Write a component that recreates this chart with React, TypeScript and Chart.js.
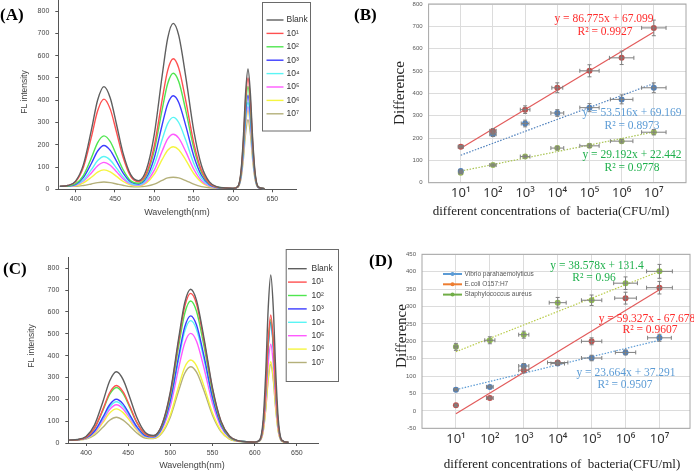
import React, { useEffect, useRef } from 'react';
import { Chart, registerables } from 'chart.js';

Chart.register(...registerables);

const W = 694;
const H = 473;

// ---------------- Spectra (panels A and C) ----------------
const WAVELENGTHS = [380, 390, 400, 410, 420, 428, 436, 444, 452, 460, 470, 480, 490, 500, 510, 517, 524, 531, 540, 550, 560, 570, 580, 590, 600, 606, 610, 613, 616, 619, 622, 625, 628, 632, 640];
const SPEC_LABELS = ['Blank', '10¹', '10²', '10³', '10⁴', '10⁵', '10⁶', '10⁷'];
const SPEC_COLORS = ['#5f5f5f', '#ff5050', '#50e650', '#3c3cff', '#5af5f5', '#ff5aff', '#f5f540', '#b4b07a'];
const SPEC_X_TICKS = [400, 450, 500, 550, 600, 650];
const SPEC_Y_TICKS = [0, 100, 200, 300, 400, 500, 600, 700, 800];

const A_BLANK = [13, 17, 37, 112, 266, 401, 461, 410, 291, 166, 66, 39, 89, 248, 511, 679, 745, 691, 504, 266, 106, 33, 11, 6, 4, 12, 77, 225, 434, 540, 433, 224, 76, 11, 3];
const A_E1 = [13, 17, 34, 100, 234, 353, 405, 360, 256, 147, 58, 34, 72, 196, 403, 534, 586, 544, 397, 210, 84, 27, 10, 6, 4, 11, 71, 208, 402, 500, 401, 207, 70, 10, 3];
const A_E2 = [13, 15, 25, 63, 141, 210, 240, 214, 153, 90, 38, 27, 64, 175, 359, 475, 521, 484, 353, 187, 75, 25, 9, 6, 4, 11, 66, 193, 372, 462, 371, 192, 65, 10, 3];
const A_E3 = [13, 15, 22, 54, 116, 172, 197, 175, 126, 75, 33, 24, 53, 142, 290, 383, 420, 390, 285, 151, 62, 21, 8, 5, 4, 10, 61, 177, 340, 423, 339, 176, 60, 9, 3];
const A_E4 = [13, 14, 20, 42, 88, 129, 147, 131, 95, 57, 26, 20, 43, 111, 224, 295, 323, 300, 220, 117, 49, 17, 8, 5, 4, 10, 56, 163, 314, 390, 313, 162, 55, 9, 3];
const A_E5 = [13, 14, 18, 37, 73, 106, 121, 108, 79, 48, 23, 18, 35, 86, 172, 226, 247, 230, 169, 91, 38, 14, 7, 5, 4, 10, 54, 156, 300, 372, 298, 155, 53, 9, 3];
const A_E6 = [13, 14, 16, 29, 54, 77, 87, 78, 58, 36, 19, 15, 29, 68, 134, 175, 191, 178, 131, 71, 31, 12, 7, 5, 4, 9, 52, 149, 286, 355, 285, 148, 51, 8, 3];
const A_E7 = [13, 13, 13, 17, 24, 30, 33, 30, 24, 18, 12, 11, 14, 23, 40, 51, 54, 51, 39, 23, 12, 7, 5, 5, 4, 9, 46, 131, 252, 312, 251, 130, 45, 8, 3];

const C_BLANK = [13, 16, 30, 82, 189, 284, 326, 290, 207, 119, 49, 34, 84, 235, 483, 642, 704, 653, 477, 251, 100, 32, 11, 6, 4, 15, 107, 319, 618, 769, 617, 318, 106, 14, 3];
const C_E1 = [13, 15, 26, 68, 154, 230, 263, 234, 168, 97, 42, 32, 82, 228, 470, 624, 685, 636, 464, 245, 98, 31, 10, 6, 4, 13, 83, 244, 471, 586, 470, 243, 82, 12, 3];
const C_E2 = [13, 15, 26, 66, 149, 222, 254, 226, 162, 94, 40, 31, 78, 217, 447, 593, 650, 603, 440, 232, 93, 29, 10, 6, 4, 12, 80, 235, 455, 566, 454, 234, 79, 11, 3];
const C_E3 = [13, 15, 23, 54, 118, 175, 200, 178, 128, 76, 34, 28, 70, 195, 400, 531, 582, 540, 395, 208, 84, 27, 10, 6, 4, 12, 78, 231, 445, 554, 444, 229, 77, 11, 3];
const C_E4 = [13, 15, 22, 52, 112, 165, 189, 168, 121, 72, 32, 27, 68, 188, 385, 511, 560, 520, 380, 201, 81, 26, 9, 6, 4, 12, 78, 228, 441, 548, 440, 227, 77, 11, 3];
const C_E5 = [13, 15, 21, 49, 104, 153, 175, 156, 113, 67, 30, 25, 62, 169, 346, 458, 502, 466, 341, 180, 73, 24, 9, 6, 4, 11, 65, 189, 364, 452, 363, 188, 64, 10, 3];
const C_E6 = [13, 14, 20, 44, 93, 137, 156, 139, 101, 60, 28, 22, 49, 129, 262, 347, 380, 353, 258, 137, 56, 19, 8, 5, 4, 10, 54, 156, 300, 372, 299, 155, 53, 9, 3];
const C_E7 = [13, 14, 18, 36, 72, 104, 118, 105, 77, 47, 23, 20, 45, 119, 241, 319, 349, 324, 238, 126, 52, 18, 8, 5, 4, 9, 52, 151, 290, 360, 289, 150, 51, 8, 3];

// ---------------- Calibration (panels B and D) ----------------
const CONC_X = [1, 2, 3, 4, 5, 6, 7];
const CONC_LABELS = ['10¹', '10²', '10³', '10⁴', '10⁵', '10⁶', '10⁷'];
const FIT_X = [1, 7];
const B_Y_TICKS = [0, 100, 200, 300, 400, 500, 600, 700, 800];
const D_Y_TICKS = [-50, 0, 50, 100, 150, 200, 250, 300, 350, 400, 450];

const B_RED = [161, 232, 327, 425, 501, 559, 693];
const B_RED_EY = [5, 10, 17, 22, 27, 30, 35];
const B_RED_EX = [0.08, 0.1, 0.15, 0.17, 0.3, 0.38, 0.38];
const B_BLUE = [52, 217, 265, 312, 336, 373, 425];
const B_BLUE_EY = [5, 10, 15, 15, 18, 20, 22];
const B_BLUE_EX = [0.05, 0.1, 0.12, 0.2, 0.3, 0.35, 0.38];
const B_GREEN = [45, 79, 117, 155, 165, 186, 226];
const B_GREEN_EY = [5, 5, 6, 8, 8, 8, 12];
const B_GREEN_EX = [0.05, 0.1, 0.15, 0.2, 0.3, 0.35, 0.38];
const B_RED_FIT = [154, 675];
const B_BLUE_FIT = [123, 444];
const B_GREEN_FIT = [52, 227];

const D_GREEN = [184, 203, 219, 311, 318, 367, 401];
const D_GREEN_EY = [10, 10, 10, 15, 15, 18, 20];
const D_GREEN_EX = [0.05, 0.15, 0.15, 0.25, 0.3, 0.35, 0.38];
const D_RED = [16, 37, 117, 139, 200, 324, 354];
const D_RED_EY = [3, 3, 8, 5, 10, 17, 18];
const D_RED_EX = [0.03, 0.1, 0.15, 0.3, 0.3, 0.32, 0.38];
const D_BLUE = [61, 69, 129, 136, 152, 168, 210];
const D_BLUE_EY = [3, 3, 7, 5, 8, 7, 10];
const D_BLUE_EX = [0.05, 0.1, 0.15, 0.2, 0.3, 0.3, 0.35];
const D_GREEN_FIT = [170, 401];
const D_RED_FIT = [-8, 348];
const D_BLUE_FIT = [61, 203];
const D_LEGEND_LABELS = ['Vibrio parahaemolyticus', 'E.coli O157:H7', 'Staphylococcus aureus'];
const D_LEGEND_COLORS = ['#5b9bd5', '#ed7d31', '#70ad47'];

// ---------------- Text ----------------
const PANEL_LABELS = ['(A)', '(B)', '(C)', '(D)'];
const SPEC_Y_TITLE = 'FL intensity';
const SPEC_X_TITLE = 'Wavelength(nm)';
const CAL_Y_TITLE = 'Difference';
const CAL_X_TITLE = 'different concentrations of  bacteria(CFU/ml)';
const B_EQ = ['y = 86.775x + 67.099', 'R² = 0.9927', 'y = 53.516x + 69.169', 'R² = 0.8973', 'y = 29.192x + 22.442', 'R² = 0.9778'];
const D_EQ = ['y = 38.578x + 131.4', 'R² = 0.96', 'y = 59.327x - 67.678', 'R² = 0.9607', 'y = 23.664x + 37.291', 'R² = 0.9507'];

type Rect = { l: number; t: number; r: number; b: number };
type TextItem = { text: string; x: number; y: number; font: string; color: string; align?: CanvasTextAlign; rotate?: boolean };

const YW = 30;
const XH = 20;

function layoutFor(rect: Rect) {
  return { padding: { left: rect.l - YW, top: rect.t, right: W - rect.r, bottom: H - rect.b - XH } };
}
function fitY(s: any) { s.width = YW; s.paddingTop = 0; s.paddingBottom = 0; s.paddingLeft = 0; s.paddingRight = 0; }
function fitX(s: any) { s.height = XH; s.paddingTop = 0; s.paddingBottom = 0; s.paddingLeft = 0; s.paddingRight = 0; }
function setTicks(values: number[]) { return (s: any) => { s.ticks = values.map((v) => ({ value: v })); }; }

function textPlugin(items: TextItem[]) {
  return {
    id: 'texts',
    afterDraw(chart: any) {
      const ctx = chart.ctx;
      for (const t of items) {
        ctx.save();
        ctx.font = t.font;
        ctx.fillStyle = t.color;
        ctx.textAlign = t.align || 'center';
        ctx.textBaseline = 'middle';
        ctx.translate(t.x, t.y);
        if (t.rotate) ctx.rotate(-Math.PI / 2);
        ctx.fillText(t.text, 0, 0);
        ctx.restore();
      }
    },
  };
}

function specLegendPlugin(box: Rect, firstY: number, step: number, lineX0: number, lineX1: number, textX: number) {
  return {
    id: 'specLegend',
    afterDraw(chart: any) {
      const ctx = chart.ctx;
      ctx.save();
      ctx.fillStyle = '#fff';
      ctx.fillRect(box.l, box.t, box.r - box.l, box.b - box.t);
      ctx.strokeStyle = '#6a6a6a';
      ctx.lineWidth = 1;
      ctx.strokeRect(box.l + 0.5, box.t + 0.5, box.r - box.l, box.b - box.t);
      SPEC_LABELS.forEach((lab, i) => {
        const y = firstY + i * step;
        ctx.strokeStyle = SPEC_COLORS[i];
        ctx.lineWidth = 1.4;
        ctx.beginPath();
        ctx.moveTo(lineX0, y);
        ctx.lineTo(lineX1, y);
        ctx.stroke();
        ctx.fillStyle = '#333';
        ctx.font = '8.5px "Liberation Sans"';
        ctx.textAlign = 'left';
        ctx.textBaseline = 'middle';
        ctx.fillText(lab, textX, y);
      });
      ctx.restore();
    },
  };
}

const errorBarPlugin = {
  id: 'errorBars',
  afterDatasetsDraw(chart: any) {
    const ctx = chart.ctx;
    const xs = chart.scales.x;
    const ys = chart.scales.y;
    ctx.save();
    ctx.strokeStyle = '#7f7f7f';
    ctx.lineWidth = 1;
    chart.data.datasets.forEach((ds: any) => {
      if (!ds.errY) return;
      ds.data.forEach((p: any, i: number) => {
        const px = xs.getPixelForValue(p.x);
        const py = ys.getPixelForValue(p.y);
        const y1 = ys.getPixelForValue(p.y + ds.errY[i]);
        const y2 = ys.getPixelForValue(p.y - ds.errY[i]);
        const x1 = xs.getPixelForValue(p.x - ds.errX[i]);
        const x2 = xs.getPixelForValue(p.x + ds.errX[i]);
        ctx.beginPath();
        ctx.moveTo(px, y1); ctx.lineTo(px, y2);
        ctx.moveTo(px - 2, y1); ctx.lineTo(px + 2, y1);
        ctx.moveTo(px - 2, y2); ctx.lineTo(px + 2, y2);
        ctx.moveTo(x1, py); ctx.lineTo(x2, py);
        ctx.moveTo(x1, py - 2); ctx.lineTo(x1, py + 2);
        ctx.moveTo(x2, py - 2); ctx.lineTo(x2, py + 2);
        ctx.stroke();
      });
    });
    ctx.restore();
  },
};

const framePlugin = {
  id: 'frame',
  afterDatasetsDraw(chart: any) {
    const a = chart.chartArea;
    const ctx = chart.ctx;
    ctx.save();
    ctx.strokeStyle = '#a6a6a6';
    ctx.lineWidth = 1;
    ctx.strokeRect(a.left, a.top, a.right - a.left, a.bottom - a.top);
    ctx.restore();
  },
};

function dLegendPlugin() {
  return {
    id: 'dLegend',
    afterDraw(chart: any) {
      const ctx = chart.ctx;
      ctx.save();
      D_LEGEND_LABELS.forEach((lab, i) => {
        const y = 274 + i * 10.3;
        ctx.strokeStyle = D_LEGEND_COLORS[i];
        ctx.fillStyle = D_LEGEND_COLORS[i];
        ctx.lineWidth = 2;
        ctx.beginPath();
        ctx.moveTo(443, y);
        ctx.lineTo(462, y);
        ctx.stroke();
        ctx.beginPath();
        ctx.arc(452.5, y, 2, 0, Math.PI * 2);
        ctx.fill();
        ctx.fillStyle = '#595959';
        ctx.font = '6.5px "Liberation Sans"';
        ctx.textAlign = 'left';
        ctx.textBaseline = 'middle';
        ctx.fillText(lab, 464.5, y);
      });
      ctx.restore();
    },
  };
}

function spectrumChart(canvas: HTMLCanvasElement, series: number[][], rect: Rect, xMin: number, xMax: number, plugins: any[]) {
  return new Chart(canvas, {
    type: 'line',
    data: {
      datasets: series.map((vals, i) => ({
        label: SPEC_LABELS[i],
        data: WAVELENGTHS.map((w, j) => ({ x: w, y: vals[j] })),
        borderColor: SPEC_COLORS[i],
        borderWidth: 1.4,
        pointRadius: 0,
        cubicInterpolationMode: 'monotone',
        fill: false,
      })),
    },
    options: {
      animation: false,
      responsive: false,
      devicePixelRatio: 1,
      layout: layoutFor(rect),
      plugins: { legend: { display: false }, tooltip: { enabled: false } },
      scales: {
        x: {
          type: 'linear', min: xMin, max: xMax,
          afterBuildTicks: setTicks(SPEC_X_TICKS), afterFit: fitX,
          grid: { drawOnChartArea: false, drawTicks: true, tickLength: 3, color: '#555' },
          border: { display: true, color: '#555', width: 1 },
          ticks: { font: { family: 'Liberation Sans', size: 7 }, color: '#444', padding: 3, maxRotation: 0, autoSkip: false },
        },
        y: {
          type: 'linear', min: 0, max: 850,
          afterBuildTicks: setTicks(SPEC_Y_TICKS), afterFit: fitY,
          grid: { drawOnChartArea: false, drawTicks: true, tickLength: 3, color: '#555' },
          border: { display: true, color: '#555', width: 1 },
          ticks: { font: { family: 'Liberation Sans', size: 7 }, color: '#444', padding: 6, autoSkip: false },
        },
      },
    } as any,
    plugins,
  });
}

type Group = { vals: number[]; ey: number[]; ex: number[]; color: string; fit: number[]; fitColor: string; dash: number[] };

function calibChart(canvas: HTMLCanvasElement, rect: Rect, yMin: number, yMax: number, yTicks: number[], xMax: number, groups: Group[], plugins: any[]) {
  const pointSets = groups.map((g) => ({
    data: CONC_X.map((x, i) => ({ x, y: g.vals[i] })),
    errY: g.ey, errX: g.ex,
    backgroundColor: g.color, borderColor: g.color,
    pointRadius: 3, pointBorderWidth: 0, showLine: false,
  }));
  const fitSets = groups.map((g) => ({
    data: FIT_X.map((x, i) => ({ x, y: g.fit[i] })),
    borderColor: g.fitColor, borderWidth: 1.2, borderDash: g.dash,
    pointRadius: 0, showLine: true,
  }));
  return new Chart(canvas, {
    type: 'scatter',
    data: { datasets: [...pointSets, ...fitSets] as any },
    options: {
      animation: false,
      responsive: false,
      devicePixelRatio: 1,
      layout: layoutFor(rect),
      plugins: { legend: { display: false }, tooltip: { enabled: false } },
      scales: {
        x: {
          type: 'linear', min: 0, max: xMax,
          afterBuildTicks: setTicks(CONC_X), afterFit: fitX,
          grid: { drawOnChartArea: true, drawTicks: false, color: '#dcdcdc' },
          border: { display: false },
          ticks: { font: { family: 'Noto Sans', size: 13 }, color: '#333', padding: 3, maxRotation: 0, autoSkip: false,
            callback: (v: any) => CONC_LABELS[Number(v) - 1] ?? '' },
        },
        y: {
          type: 'linear', min: yMin, max: yMax,
          afterBuildTicks: setTicks(yTicks), afterFit: fitY,
          grid: { drawOnChartArea: true, drawTicks: false, color: '#dcdcdc' },
          border: { display: false },
          ticks: { font: { family: 'Liberation Sans', size: 6 }, color: '#595959', padding: 6, autoSkip: false },
        },
      },
    } as any,
    plugins,
  });
}

const SPEC_LABEL_FONT = '8.5px "Liberation Sans"';
const PANEL_FONT = 'bold 17px "Liberation Serif"';
const EQ_FONT = '11.5px "Liberation Serif"';

export default function App() {
  const r0 = useRef<HTMLCanvasElement>(null);
  const r1 = useRef<HTMLCanvasElement>(null);
  const r2 = useRef<HTMLCanvasElement>(null);
  const r3 = useRef<HTMLCanvasElement>(null);

  useEffect(() => {
    const charts: Chart[] = [];
    charts.push(spectrumChart(r0.current!, [A_BLANK, A_E1, A_E2, A_E3, A_E4, A_E5, A_E6, A_E7], { l: 58.3, t: 0, r: 296, b: 189.3 }, 378, 680, [
      specLegendPlugin({ l: 262, t: 2, r: 310, b: 130.5 }, 20, 13.4, 266.5, 283.5, 286.5),
      textPlugin([
        { text: PANEL_LABELS[0], x: 0, y: 16, font: PANEL_FONT, color: '#000', align: 'left' },
        { text: SPEC_Y_TITLE, x: 25, y: 92, font: SPEC_LABEL_FONT, color: '#444', rotate: true },
        { text: SPEC_X_TITLE, x: 177, y: 213, font: '9px "Liberation Sans"', color: '#444' },
      ]),
    ]));
    charts.push(calibChart(r1.current!, { l: 428.6, t: 3.3, r: 686, b: 182.7 }, 0, 800, B_Y_TICKS, 8, [
      { vals: B_RED, ey: B_RED_EY, ex: B_RED_EX, color: '#c0504d', fit: B_RED_FIT, fitColor: '#e25b5b', dash: [] },
      { vals: B_BLUE, ey: B_BLUE_EY, ex: B_BLUE_EX, color: '#4f81bd', fit: B_BLUE_FIT, fitColor: '#4f81bd', dash: [1.5, 1.5] },
      { vals: B_GREEN, ey: B_GREEN_EY, ex: B_GREEN_EX, color: '#9bbb59', fit: B_GREEN_FIT, fitColor: '#a9c452', dash: [1.5, 1.5] },
    ], [
      framePlugin, errorBarPlugin,
      textPlugin([
        { text: PANEL_LABELS[1], x: 354, y: 16, font: PANEL_FONT, color: '#000', align: 'left' },
        { text: CAL_Y_TITLE, x: 400, y: 93, font: '15px "Liberation Serif"', color: '#222', rotate: true },
        { text: CAL_X_TITLE, x: 551, y: 212, font: '13px "Liberation Serif"', color: '#222' },
        { text: B_EQ[0], x: 604, y: 19, font: EQ_FONT, color: '#ff2a2a' },
        { text: B_EQ[1], x: 605, y: 32, font: EQ_FONT, color: '#ff2a2a' },
        { text: B_EQ[2], x: 632, y: 113, font: EQ_FONT, color: '#5b9bd5' },
        { text: B_EQ[3], x: 632, y: 126, font: EQ_FONT, color: '#5b9bd5' },
        { text: B_EQ[4], x: 632, y: 155, font: EQ_FONT, color: '#1fb04c' },
        { text: B_EQ[5], x: 632, y: 168, font: EQ_FONT, color: '#1fb04c' },
      ]),
    ]));
    charts.push(spectrumChart(r2.current!, [C_BLANK, C_E1, C_E2, C_E3, C_E4, C_E5, C_E6, C_E7], { l: 68.3, t: 257.3, r: 318, b: 443 }, 379, 675, [
      specLegendPlugin({ l: 285.7, t: 249, r: 338, b: 381 }, 268.7, 13.4, 288, 306.7, 311.5),
      textPlugin([
        { text: PANEL_LABELS[2], x: 3, y: 270, font: PANEL_FONT, color: '#000', align: 'left' },
        { text: SPEC_Y_TITLE, x: 32, y: 346, font: SPEC_LABEL_FONT, color: '#444', rotate: true },
        { text: SPEC_X_TITLE, x: 192, y: 466, font: '9px "Liberation Sans"', color: '#444' },
      ]),
    ]));
    charts.push(calibChart(r3.current!, { l: 422, t: 254.3, r: 690, b: 428.3 }, -50, 450, D_Y_TICKS, 7.9, [
      { vals: D_GREEN, ey: D_GREEN_EY, ex: D_GREEN_EX, color: '#8fbc4f', fit: D_GREEN_FIT, fitColor: '#b9cc4a', dash: [1.5, 1.5] },
      { vals: D_RED, ey: D_RED_EY, ex: D_RED_EX, color: '#c0504d', fit: D_RED_FIT, fitColor: '#e25b5b', dash: [] },
      { vals: D_BLUE, ey: D_BLUE_EY, ex: D_BLUE_EX, color: '#4f81bd', fit: D_BLUE_FIT, fitColor: '#5b9bd5', dash: [1.5, 1.5] },
    ], [
      framePlugin, errorBarPlugin, dLegendPlugin(),
      textPlugin([
        { text: PANEL_LABELS[3], x: 369, y: 262, font: PANEL_FONT, color: '#000', align: 'left' },
        { text: CAL_Y_TITLE, x: 402, y: 336, font: '15px "Liberation Serif"', color: '#222', rotate: true },
        { text: CAL_X_TITLE, x: 562, y: 465, font: '13px "Liberation Serif"', color: '#222' },
        { text: D_EQ[0], x: 597, y: 266, font: EQ_FONT, color: '#1fb04c' },
        { text: D_EQ[1], x: 594, y: 277.5, font: EQ_FONT, color: '#1fb04c' },
        { text: D_EQ[2], x: 647, y: 318.7, font: EQ_FONT, color: '#ff2a2a' },
        { text: D_EQ[3], x: 650, y: 330, font: EQ_FONT, color: '#ff2a2a' },
        { text: D_EQ[4], x: 626, y: 373, font: EQ_FONT, color: '#5b9bd5' },
        { text: D_EQ[5], x: 625, y: 385, font: EQ_FONT, color: '#5b9bd5' },
      ]),
    ]));
    return () => charts.forEach((c) => c.destroy());
  }, []);

  const style: React.CSSProperties = { position: 'absolute', left: 0, top: 0, width: W, height: H };
  return (
    <div style={{ position: 'fixed', left: 0, top: 0, width: W, height: H, background: '#fff', overflow: 'hidden' }}>
      <canvas ref={r0} width={W} height={H} style={style} />
      <canvas ref={r1} width={W} height={H} style={style} />
      <canvas ref={r2} width={W} height={H} style={style} />
      <canvas ref={r3} width={W} height={H} style={style} />
    </div>
  );
}
